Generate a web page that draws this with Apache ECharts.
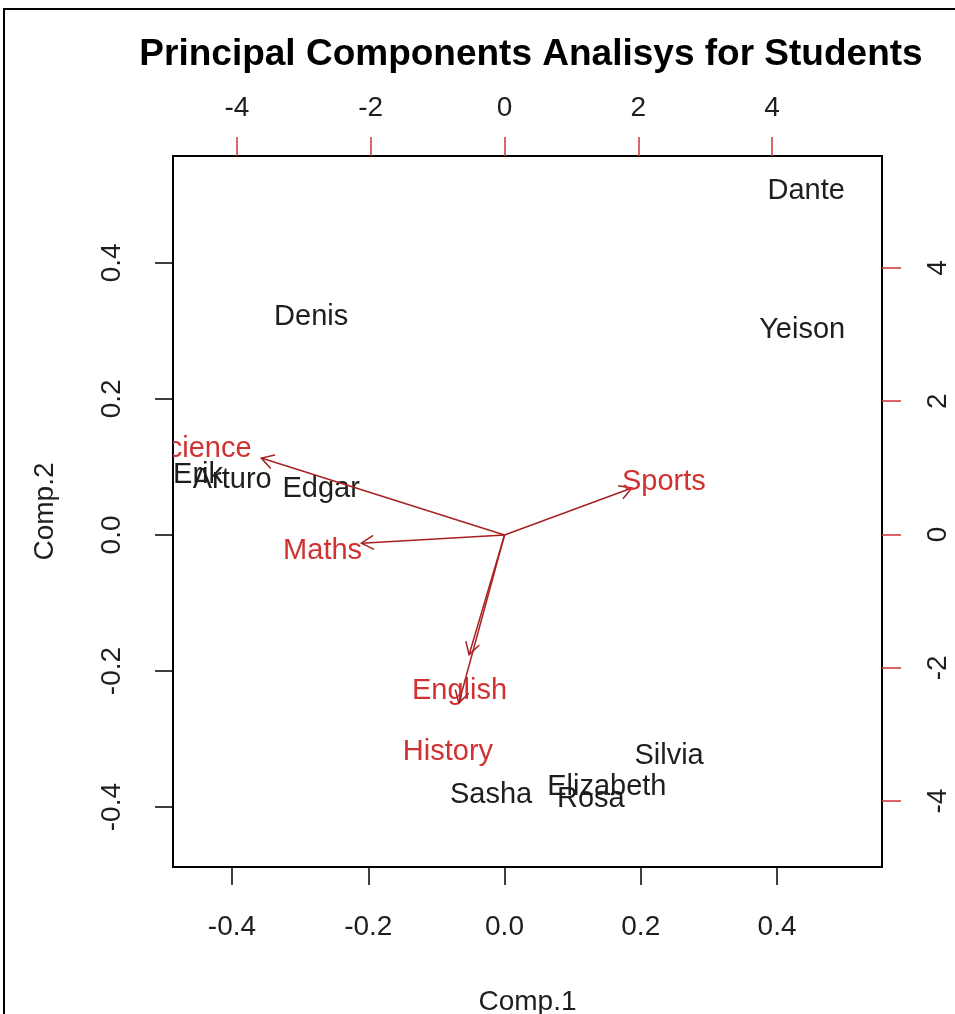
<!DOCTYPE html>
<html>
<head>
<meta charset="utf-8">
<title>Principal Components Analisys for Students</title>
<script src="https://cdn.jsdelivr.net/npm/echarts@6/dist/echarts.min.js"></script>
<style>
  html, body { margin: 0; padding: 0; background: #fff; }
  #main { width: 955px; height: 1014px; }
</style>
</head>
<body>
<div id="main"></div>
<script>
// scores (top / right axes)
var students = ['Dante', 'Yeison', 'Denis', 'Erik', 'Arturo', 'Edgar', 'Sasha', 'Elizabeth', 'Rosa', 'Silvia'];
var scoreX = [4.51, 4.45, -2.89, -4.58, -4.07, -2.74, -0.20, 1.53, 1.29, 2.46];
var scoreY = [5.22, 3.13, 3.32, 0.95, 0.88, 0.74, -3.85, -3.73, -3.91, -3.27];

// loadings (bottom / left axes)
var subjects = ['Science', 'Maths', 'Sports', 'English', 'History'];
var loadX = [-0.357, -0.210, 0.187, -0.052, -0.067];
var loadY = [0.113, -0.012, 0.069, -0.176, -0.247];
var labelX = [-0.447, -0.267, 0.234, -0.066, -0.083];
var labelY = [0.132, -0.018, 0.084, -0.223, -0.313];

// tick labels
var compTicks = [-0.4, -0.2, 0.0, 0.2, 0.4];
var scoreTicks = [-4, -2, 0, 2, 4];

var FONT = '"Liberation Sans", Arial, sans-serif';
var RED = '#d03232';
var DARKRED = '#a82020';
var INK = '#1e1e1e';

var chart = echarts.init(document.getElementById('main'), null, { renderer: 'canvas' });

function renderStudent(params, api) {
  var p = api.coord([api.value(0), api.value(1)]);
  return {
    type: 'text',
    x: p[0],
    y: p[1] + 4,
    style: {
      text: students[params.dataIndex],
      fill: INK,
      fontSize: 29,
      fontFamily: FONT,
      align: 'center',
      verticalAlign: 'middle'
    }
  };
}

function renderArrow(params, api) {
  var o = api.coord([0, 0]);
  var t = api.coord([api.value(0), api.value(1)]);
  var lp = api.coord([api.value(2), api.value(3)]);
  var ang = Math.atan2(t[1] - o[1], t[0] - o[0]);
  var len = 14, a = Math.PI / 6;
  var p1 = [t[0] - len * Math.cos(ang - a), t[1] - len * Math.sin(ang - a)];
  var p2 = [t[0] - len * Math.cos(ang + a), t[1] - len * Math.sin(ang + a)];
  return {
    type: 'group',
    children: [
      { type: 'line', shape: { x1: o[0], y1: o[1], x2: t[0], y2: t[1] },
        style: { stroke: DARKRED, lineWidth: 1.5 } },
      { type: 'polyline', shape: { points: [p1, t, p2] },
        style: { stroke: DARKRED, lineWidth: 1.5, fill: null } },
      { type: 'text', x: lp[0], y: lp[1] + 4,
        style: { text: subjects[params.dataIndex], fill: RED, fontSize: 29, fontFamily: FONT,
                 align: 'center', verticalAlign: 'middle' } }
    ]
  };
}

var scoreData = students.map(function (s, i) { return [scoreX[i], scoreY[i]]; });
var loadData = subjects.map(function (s, i) { return [loadX[i], loadY[i], labelX[i], labelY[i]]; });

var option = {
  animation: false,
  backgroundColor: '#fff',
  textStyle: { fontFamily: FONT },
  title: {
    text: 'Principal Components Analisys for Students',
    left: 526,
    top: 31,
    textAlign: 'center',
    textStyle: { fontSize: 37, fontWeight: 'bold', color: '#000', fontFamily: FONT }
  },
  graphic: [
    { type: 'polyline', shape: { points: [[4, 1014], [4, 9], [955, 9]] },
      style: { stroke: '#000', lineWidth: 2, fill: null }, silent: true }
  ],
  grid: {
    left: 173, right: 73, top: 156, bottom: 147,
    containLabel: false, outerBoundsMode: 'none',
    show: true, borderColor: '#000', borderWidth: 2, backgroundColor: 'transparent'
  },
  xAxis: [
    {
      type: 'value', position: 'bottom', min: -0.4866, max: 0.5541,
      name: 'Comp.1', nameLocation: 'middle', nameGap: 121,
      nameTextStyle: { fontSize: 28, color: INK, fontFamily: FONT },
      axisLine: { show: false, onZero: false },
      axisTick: { show: true, length: 18, customValues: compTicks, lineStyle: { color: '#000', width: 1.5 } },
      axisLabel: { customValues: compTicks, margin: 46, fontSize: 28, color: INK, fontFamily: FONT,
                   formatter: function (v) { return v.toFixed(1); } },
      splitLine: { show: false }
    },
    {
      type: 'value', position: 'top', min: -4.955, max: 5.643,
      axisLine: { show: false, onZero: false },
      axisTick: { show: true, length: 19, customValues: scoreTicks, lineStyle: { color: RED, width: 1.5 } },
      axisLabel: { customValues: scoreTicks, margin: 34, fontSize: 28, color: INK, fontFamily: FONT },
      splitLine: { show: false }
    }
  ],
  yAxis: [
    {
      type: 'value', position: 'left', min: -0.488, max: 0.557,
      name: 'Comp.2', nameLocation: 'middle', nameGap: 114, nameRotate: 90,
      nameTextStyle: { fontSize: 28, color: INK, fontFamily: FONT },
      axisLine: { show: false, onZero: false },
      axisTick: { show: true, length: 18, customValues: compTicks, lineStyle: { color: '#000', width: 1.5 } },
      axisLabel: { customValues: compTicks, rotate: 90, margin: 47, fontSize: 28, color: INK, fontFamily: FONT,
                   formatter: function (v) { return v.toFixed(1); } },
      splitLine: { show: false }
    },
    {
      type: 'value', position: 'right', min: -4.99, max: 5.68,
      axisLine: { show: false, onZero: false },
      axisTick: { show: true, length: 19, customValues: scoreTicks, lineStyle: { color: RED, width: 1.5 } },
      axisLabel: { customValues: scoreTicks, rotate: 90, margin: 42, fontSize: 28, color: INK, fontFamily: FONT },
      splitLine: { show: false }
    }
  ],
  series: [
    {
      type: 'custom', name: 'students', xAxisIndex: 1, yAxisIndex: 1,
      clip: true, renderItem: renderStudent, data: scoreData, z: 2
    },
    {
      type: 'custom', name: 'subjects', xAxisIndex: 0, yAxisIndex: 0,
      clip: true, renderItem: renderArrow, data: loadData, z: 3
    }
  ]
};

chart.setOption(option);
</script>
</body>
</html>
